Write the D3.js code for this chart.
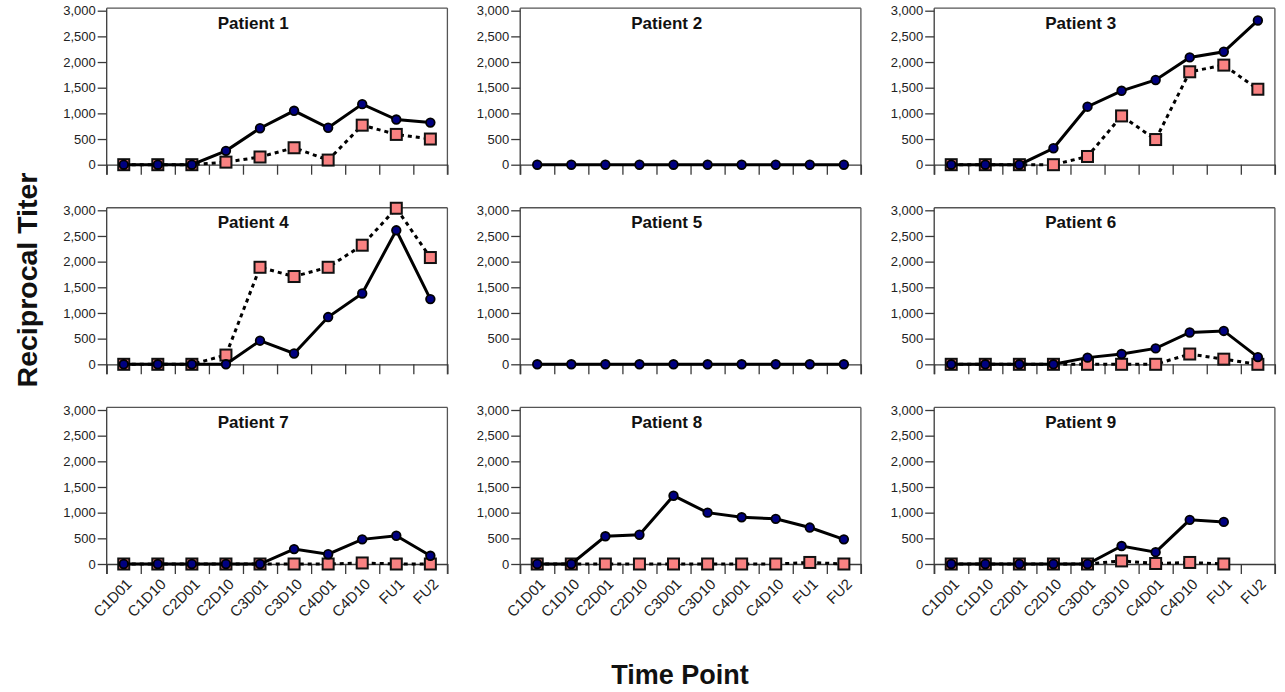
<!DOCTYPE html>
<html>
<head>
<meta charset="utf-8">
<script src="https://cdn.jsdelivr.net/npm/d3@7"></script>
<style>
  html, body { margin: 0; padding: 0; background: #fff; }
  svg { display: block; }
  text { font-family: "Liberation Sans", Arial, sans-serif; }
</style>
</head>
<body>
<svg id="chart" width="1285" height="692"></svg>
<script>
// ---- data ----
const timePoints = ["C1D01","C1D10","C2D01","C2D10","C3D01","C3D10","C4D01","C4D10","FU1","FU2"];
const patients = ["Patient 1","Patient 2","Patient 3","Patient 4","Patient 5","Patient 6","Patient 7","Patient 8","Patient 9"];
const yTickValues = [0, 500, 1000, 1500, 2000, 2500, 3000];

// solid line, navy circles
const circles1 = [0, 0, 0, 270, 710, 1050, 720, 1180, 880, 820];
const circles2 = [0, 0, 0, 0, 0, 0, 0, 0, 0, 0];
const circles3 = [0, 0, 0, 320, 1130, 1440, 1650, 2090, 2200, 2810];
const circles4 = [0, 0, 0, 0, 460, 210, 920, 1380, 2610, 1270];
const circles5 = [0, 0, 0, 0, 0, 0, 0, 0, 0, 0];
const circles6 = [0, 0, 0, 0, 130, 200, 310, 620, 650, 140];
const circles7 = [0, 0, 0, 0, 0, 290, 190, 480, 550, 160];
const circles8 = [0, 0, 540, 570, 1330, 1000, 910, 880, 710, 480];
const circles9 = [0, 0, 0, 0, 0, 350, 230, 860, 820, null];

// dotted line, salmon squares
const squares1 = [0, 0, 0, 50, 150, 330, 90, 770, 590, 500];
const squares2 = null;
const squares3 = [0, 0, 0, 0, 160, 950, 490, 1810, 1940, 1470];
const squares4 = [0, 0, 0, 180, 1890, 1710, 1890, 2320, 3040, 2080];
const squares5 = null;
const squares6 = [0, 0, 0, 0, 0, 0, 0, 200, 100, 0];
const squares7 = [0, 0, 0, 0, 0, 0, 0, 20, 0, 0];
const squares8 = [0, 0, 0, 0, 0, 0, 0, 0, 30, 0];
const squares9 = [0, 0, 0, 0, 0, 60, 10, 30, 0, null];

const circleSeries = [circles1, circles2, circles3, circles4, circles5, circles6, circles7, circles8, circles9];
const squareSeries = [squares1, squares2, squares3, squares4, squares5, squares6, squares7, squares8, squares9];

// ---- layout ----
const svg = d3.select("#chart");
const colLeft = [106.7, 520.2, 934.2];
const rowTop = [10.7, 210.3, 410.0];   // y position of 3000
const pw = 340.7;
const ph3000 = 154;                    // pixels for 0..3000
const topVal = 3050;
const tickLen = 10;
const axisColor = "#3a3a3a";
const frameColor = "#555";

const x = d3.scaleBand().domain(timePoints).range([0, pw]).padding(0);
const xIdx = d3.scaleLinear().domain([0, timePoints.length]).range([0, pw]);
const y = d3.scaleLinear().domain([0, 3000]).range([ph3000, 0]);

patients.forEach((name, i) => {
  const r = Math.floor(i / 3), c = i % 3;
  const g = svg.append("g").attr("transform", `translate(${colLeft[c]},${rowTop[r]})`);
  const y0 = y(0), yTop = y(topVal);

  // frame: top and right
  g.append("line").attr("x1", 0).attr("x2", pw).attr("y1", yTop).attr("y2", yTop)
    .attr("stroke", frameColor).attr("stroke-width", 1.3);
  g.append("line").attr("x1", pw).attr("x2", pw).attr("y1", yTop).attr("y2", y0 + tickLen)
    .attr("stroke", frameColor).attr("stroke-width", 1.3);
  // left axis line
  g.append("line").attr("x1", 0).attr("x2", 0).attr("y1", yTop).attr("y2", y0 + tickLen)
    .attr("stroke", axisColor).attr("stroke-width", 1.3);

  // y axis
  const ya = g.append("g").call(
    d3.axisLeft(y).tickValues(yTickValues).tickFormat(d3.format(",")).tickSize(9).tickPadding(2).tickSizeOuter(0)
  );
  ya.select(".domain").remove();
  ya.selectAll(".tick line").attr("stroke", axisColor).attr("stroke-width", 1.3);
  ya.selectAll(".tick text").attr("font-size", 13).attr("fill", "#222")
    .style("font-family", '"Liberation Sans", Arial, sans-serif');

  // x axis at zero with boundary ticks
  const xa = g.append("g").attr("transform", `translate(0,${y0})`).call(
    d3.axisBottom(xIdx).ticks(timePoints.length).tickFormat("").tickSize(tickLen).tickSizeOuter(0)
  );
  xa.select(".domain").attr("stroke", axisColor).attr("stroke-width", 1.3);
  xa.selectAll(".tick line").attr("stroke", axisColor).attr("stroke-width", 1.3);

  // x labels in bottom row
  if (r === 2) {
    g.append("g").selectAll("text").data(timePoints).join("text")
      .attr("transform", d => `translate(${x(d) + x.bandwidth() / 2 + 9},${y0 + 21}) rotate(-45)`)
      .attr("text-anchor", "end")
      .attr("font-size", 15)
      .attr("fill", "#222")
      .text(d => d);
  }

  // title
  g.append("text").attr("x", pw * 0.43).attr("y", y(3000) + 18)
    .attr("text-anchor", "middle").attr("font-size", 17).attr("font-weight", "bold")
    .attr("fill", "#111").text(name);

  const cx = d => x(d.t) + x.bandwidth() / 2;

  // dotted square series (drawn first)
  const sq = squareSeries[i];
  if (sq) {
    const sData = timePoints.map((t, k) => ({ t, v: sq[k] }));
    const line = d3.line().defined(d => d.v !== null).x(cx).y(d => y(d.v));
    g.append("path").datum(sData).attr("d", line).attr("fill", "none")
      .attr("stroke", "#000").attr("stroke-width", 3).attr("stroke-dasharray", "4,4");
    g.append("g").selectAll("rect").data(sData.filter(d => d.v !== null)).join("rect")
      .attr("x", d => cx(d) - 5.5).attr("y", d => y(d.v) - 5.5)
      .attr("width", 11).attr("height", 11)
      .attr("fill", "#F98282").attr("stroke", "#111").attr("stroke-width", 2);
  }

  // solid circle series
  const ci = circleSeries[i];
  const cData = timePoints.map((t, k) => ({ t, v: ci[k] }));
  const cline = d3.line().defined(d => d.v !== null).x(cx).y(d => y(d.v));
  g.append("path").datum(cData).attr("d", cline).attr("fill", "none")
    .attr("stroke", "#000").attr("stroke-width", 3);
  g.append("g").selectAll("circle").data(cData.filter(d => d.v !== null)).join("circle")
    .attr("cx", cx).attr("cy", d => y(d.v)).attr("r", 4.3)
    .attr("fill", "#000080").attr("stroke", "#000").attr("stroke-width", 1.8);
});

// axis titles
svg.append("text")
  .attr("transform", "translate(37,280) rotate(-90)")
  .attr("text-anchor", "middle").attr("font-size", 28.5).attr("font-weight", "bold")
  .attr("fill", "#111").text("Reciprocal Titer");
svg.append("text")
  .attr("x", 680).attr("y", 684)
  .attr("text-anchor", "middle").attr("font-size", 27).attr("font-weight", "bold")
  .attr("fill", "#111").text("Time Point");
</script>
</body>
</html>
